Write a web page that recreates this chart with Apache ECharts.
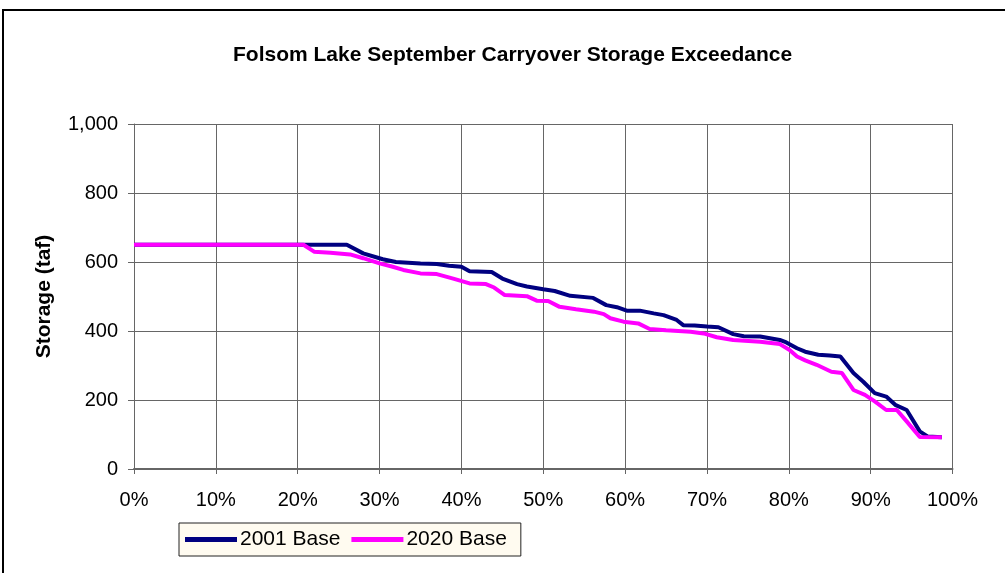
<!DOCTYPE html>
<html>
<head>
<meta charset="utf-8">
<script src="https://cdn.jsdelivr.net/npm/echarts@6/dist/echarts.min.js"></script>
<style>
  html, body { margin: 0; padding: 0; background: #fff; overflow: hidden; }
  #frame { position: absolute; left: 2px; top: 9px; width: 1020px; height: 600px; border: 2px solid #000; box-sizing: border-box; }
  #chart { position: absolute; left: 0; top: 0; width: 1005px; height: 573px; }
</style>
</head>
<body>
<div id="frame"></div>
<div id="chart"></div>
<script>
const titleText = 'Folsom Lake September Carryover Storage Exceedance';
const yAxisName = 'Storage (taf)';
const seriesNames = ['2001 Base', '2020 Base'];

// 2001 Base: exceedance (%) and storage (taf)
const pct2001 = [0, 20.7, 26.0, 28.0, 30.4, 32.0, 35.0, 37.0, 38.5, 40.0, 41.0, 43.7, 45.0, 46.8, 48.0, 50.0, 51.4, 53.3, 56.1, 57.7, 59.0, 60.2, 61.8, 63.5, 64.7, 66.3, 67.1, 68.5, 70.0, 71.4, 73.2, 74.5, 76.5, 78.9, 79.7, 81.0, 82.0, 83.6, 85.0, 86.3, 87.9, 89.1, 90.5, 91.9, 93.0, 94.4, 96.0, 97.0, 98.7];
const stor2001 = [650, 650, 650, 625, 608, 600, 596, 594, 589, 586, 573, 571, 552, 536, 529, 521, 516, 502, 496, 475, 469, 459, 459, 451, 446, 432, 417, 416, 413, 411, 391, 385, 384, 374, 367, 350, 340, 331, 329, 326, 278, 253, 220, 210, 186, 171, 109, 94, 92];

// 2020 Base: exceedance (%) and storage (taf)
const pct2020 = [0, 20.7, 22.0, 24.0, 26.4, 28.0, 30.0, 31.5, 32.9, 35.0, 37.0, 39.0, 41.0, 43.0, 44.0, 45.3, 48.0, 49.2, 50.6, 52.0, 54.0, 56.2, 57.4, 58.2, 59.8, 61.6, 63.0, 65.0, 68.0, 69.6, 71.2, 73.2, 76.5, 78.9, 80.1, 81.0, 82.0, 83.4, 85.2, 86.5, 87.9, 89.3, 90.5, 91.9, 93.2, 94.4, 96.0, 98.7];
const stor2020 = [650, 650, 630, 627, 622, 611, 596, 587, 577, 567, 565, 552, 538, 536, 526, 504, 501, 488, 487, 470, 463, 456, 449, 437, 427, 422, 406, 402, 398, 393, 382, 374, 369, 362, 345, 326, 315, 302, 282, 278, 229, 215, 196, 171, 171, 138, 93, 92];

function pairs(xs, ys) { return xs.map((x, i) => [x, ys[i]]); }

const chart = echarts.init(document.getElementById('chart'), null, { renderer: 'canvas' });
const font = 'Arial, "Liberation Sans", sans-serif';
chart.setOption({
  animation: false,
  backgroundColor: 'transparent',
  title: {
    text: titleText,
    left: 228,
    top: 40,
    textStyle: { fontFamily: font, fontSize: 21, fontWeight: 'bold', color: '#000' }
  },
  grid: { left: 134, right: 52.5, top: 124, bottom: 104 },
  legend: {
    left: 179, top: 523,
    padding: [6, 14, 6, 6],
    backgroundColor: '#FFFBF0',
    borderColor: '#222',
    borderWidth: 1,
    borderRadius: 0,
    itemWidth: 52,
    itemHeight: 5,
    itemGap: 11,
    icon: 'rect',
    textStyle: { fontFamily: font, fontSize: 21, color: '#000', padding: [0, 0, 0, -2] },
    data: seriesNames
  },
  xAxis: {
    type: 'value',
    min: 0, max: 100, interval: 10,
    axisLine: { show: true, lineStyle: { color: '#666', width: 2 } },
    axisTick: { show: true, inside: false, length: 5, lineStyle: { color: '#666' } },
    axisLabel: { formatter: v => v + '%', margin: 21, fontFamily: font, fontSize: 20, color: '#000' },
    splitLine: { show: true, lineStyle: { color: '#666', width: 1 } }
  },
  yAxis: {
    type: 'value',
    min: 0, max: 1000, interval: 200,
    name: yAxisName,
    nameLocation: 'middle',
    nameGap: 79,
    nameTextStyle: { fontFamily: font, fontSize: 21, fontWeight: 'bold', color: '#000' },
    axisLine: { show: true, lineStyle: { color: '#666', width: 1 } },
    axisTick: { show: true, inside: false, length: 6, lineStyle: { color: '#666' } },
    axisLabel: {
      formatter: v => v.toLocaleString('en-US'),
      margin: 16, fontFamily: font, fontSize: 20, color: '#000'
    },
    splitLine: { show: true, lineStyle: { color: '#666', width: 1 } }
  },
  series: [
    {
      name: seriesNames[0], type: 'line', data: pairs(pct2001, stor2001),
      showSymbol: false, symbol: 'none',
      lineStyle: { color: '#000080', width: 4 }, itemStyle: { color: '#000080' }
    },
    {
      name: seriesNames[1], type: 'line', data: pairs(pct2020, stor2020),
      showSymbol: false, symbol: 'none',
      lineStyle: { color: '#FF00FF', width: 4 }, itemStyle: { color: '#FF00FF' }
    }
  ]
});
</script>
</body>
</html>
